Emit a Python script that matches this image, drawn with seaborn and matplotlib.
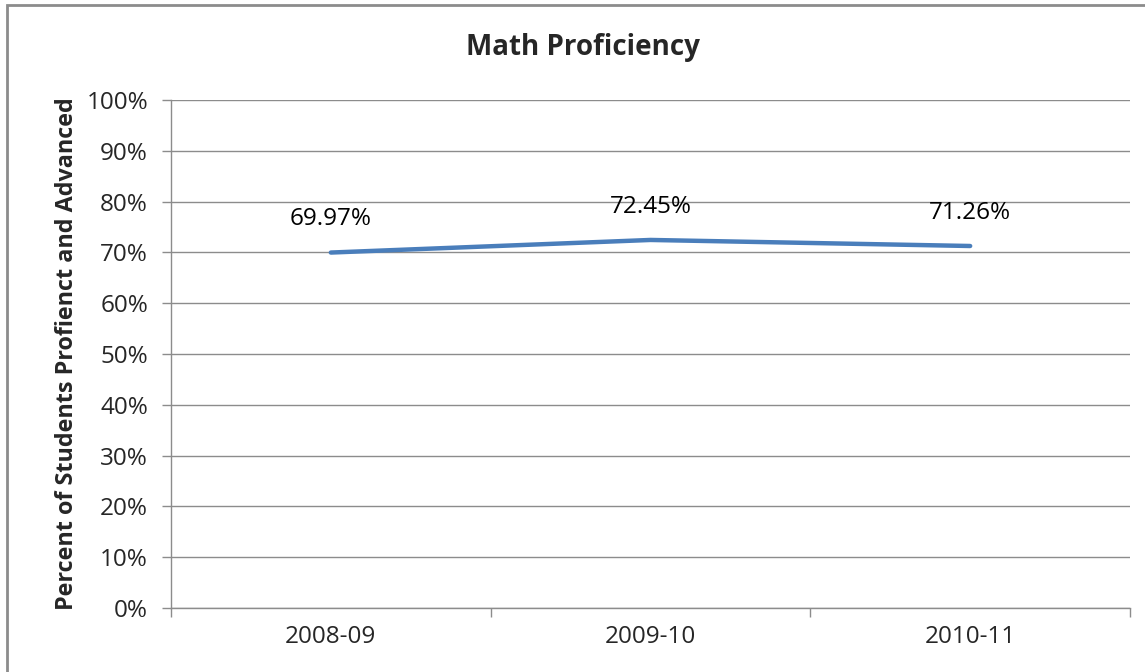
import numpy as np
import pandas as pd
import matplotlib.pyplot as plt
import seaborn as sns
from matplotlib.patches import Rectangle
from matplotlib.ticker import FixedLocator, NullFormatter

years = ["2008-09", "2009-10", "2010-11"]
proficiency = [69.97, 72.45, 71.26]
y_ticks = list(range(0, 101, 10))

sns.set_theme(style="white")
plt.rcParams['font.family'] = ['Open Sans', 'DejaVu Sans']

df = pd.DataFrame({"Year": years, "Pct": proficiency})

fig = plt.figure(figsize=(11.45, 6.72), dpi=100)
ax = fig.add_axes([171 / 1145, 64 / 672, (1130 - 171) / 1145, (608 - 100) / 672])

sns.lineplot(data=df, x="Year", y="Pct", color="#4A7EBB", linewidth=3.2, ax=ax)

for i, v in enumerate(proficiency):
    ax.annotate(f"{v:.2f}%", (i, v), xytext=(0, 24), textcoords="offset points",
                ha="center", va="center", fontsize=17.5, color="black")

ax.set_xlim(-0.5, len(years) - 0.5)
ax.set_ylim(0, 100)
ax.set_yticks(y_ticks)
ax.set_yticklabels([f"{t}%" for t in y_ticks], fontsize=17.5)
ax.yaxis.grid(True, color="#8c8c8c", linewidth=1.0)
ax.set_axisbelow(True)

# category labels in the middle, tick marks at the boundaries
ax.xaxis.set_major_locator(FixedLocator(np.arange(-0.5, len(years), 1.0)))
ax.xaxis.set_major_formatter(NullFormatter())
ax.xaxis.set_minor_locator(FixedLocator(range(len(years))))
ax.set_xticklabels(years, minor=True, fontsize=17.5)
ax.tick_params(axis="x", which="major", direction="out", length=6.5, width=1, color="#8c8c8c", bottom=True)
ax.tick_params(axis="x", which="minor", length=0, pad=12)
ax.tick_params(axis="y", direction="out", length=6.5, width=1, color="#8c8c8c", left=True, pad=10)

for side in ["top", "right"]:
    ax.spines[side].set_visible(False)
for side in ["left", "bottom"]:
    ax.spines[side].set_color("#8c8c8c")
    ax.spines[side].set_linewidth(1.0)

ax.set_xlabel("")
ax.set_ylabel("Percent of Students Profienct and Advanced", fontsize=16.8, fontweight="bold", labelpad=5)
fig.text(583 / 1145, 1 - 48 / 672, "Math Proficiency", ha="center", va="center",
         fontsize=20, fontweight="bold")

# outer chart border
fig.patches.append(Rectangle((7 / 1145, -0.1), 1.2, 1 - 5 / 672 + 0.1, transform=fig.transFigure,
                             fill=False, edgecolor="#8c8c8c", linewidth=2))

fig.savefig("out.png", dpi=100)
